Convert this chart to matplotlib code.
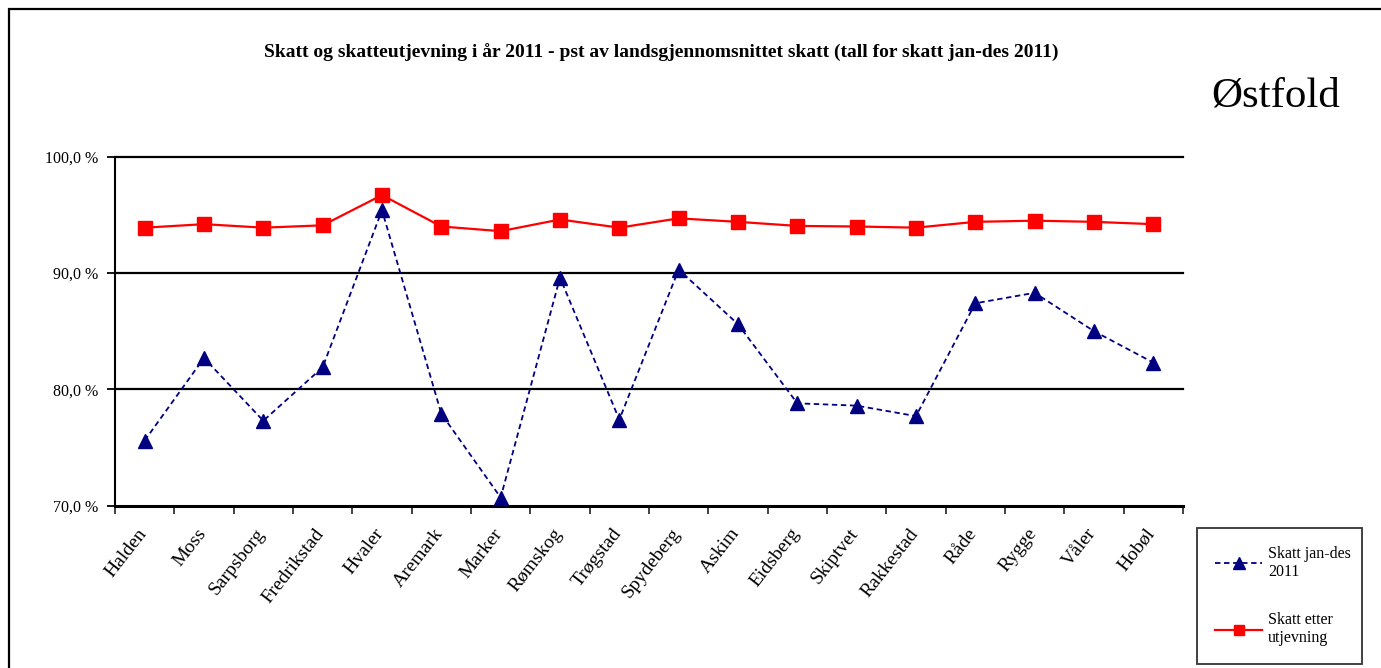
import numpy as np
import matplotlib
matplotlib.use('Agg')
import matplotlib.pyplot as plt
import matplotlib.transforms as mtransforms
from matplotlib.patches import Rectangle
from matplotlib.ticker import FixedLocator, FuncFormatter

plt.rcParams['font.family'] = ['Liberation Serif', 'DejaVu Serif']

# Kommuner i Østfold
kommuner = ['Halden', 'Moss', 'Sarpsborg', 'Fredrikstad', 'Hvaler', 'Aremark',
            'Marker', 'Rømskog', 'Trøgstad', 'Spydeberg', 'Askim', 'Eidsberg',
            'Skiptvet', 'Rakkestad', 'Råde', 'Rygge', 'Våler', 'Hobøl']

# pst av landsgjennomsnittet
skatt_jan_des = [75.6, 82.7, 77.3, 81.9, 95.4, 77.9, 70.7, 89.6, 77.4,
                 90.3, 85.6, 78.8, 78.6, 77.7, 87.4, 88.3, 85.0, 82.3]
skatt_etter_utj = [93.9, 94.2, 93.9, 94.1, 96.7, 94.0, 93.6, 94.6, 93.9,
                   94.7, 94.4, 94.05, 94.0, 93.9, 94.4, 94.5, 94.4, 94.2]

y_ticks = [70, 80, 90, 100]

W, H = 1381, 668
fig = plt.figure(figsize=(W / 100, H / 100), dpi=100)
fig.patch.set_facecolor('white')

# ramme rundt hele diagrammet
fig.add_artist(Rectangle((9 / W, -0.05), 1.2, 1 - 9 / H + 0.05,
                         transform=fig.transFigure, fill=False,
                         edgecolor='black', lw=1.6))

ax = fig.add_axes([115 / W, 1 - 505.7 / H, 1068 / W, 349 / H])
x = np.arange(len(kommuner))

ax.plot(x, skatt_jan_des, color='#000080', ls=(0, (3, 2)), lw=1.3,
        marker='^', markersize=10, markerfacecolor='#000080',
        markeredgecolor='#000080', label='Skatt jan-des\n2011', zorder=3)
ax.plot(x, skatt_etter_utj, color='#FF0000', ls='-', lw=1.6,
        marker='s', markersize=9.5, markerfacecolor='#FF0000',
        markeredgecolor='#FF0000', label='Skatt etter\nutjevning', zorder=4)

ax.set_xlim(-0.5, len(kommuner) - 0.5)
ax.set_ylim(70, 100)

for yv in y_ticks[1:]:
    ax.axhline(yv, color='black', lw=1.6, zorder=1, clip_on=False)

ax.spines['top'].set_visible(False)
ax.spines['right'].set_visible(False)
ax.spines['left'].set_linewidth(1.5)
ax.spines['bottom'].set_linewidth(2.2)

ax.yaxis.set_major_locator(FixedLocator(y_ticks))
ax.yaxis.set_major_formatter(FuncFormatter(lambda v, p: f'{v:.1f}'.replace('.', ',') + ' %'))
ax.tick_params(axis='y', direction='out', length=6, width=1.3, labelsize=11.5, pad=6)

# tick mellom kategoriene, etiketter midt i
ax.set_xticks(np.arange(len(kommuner) + 1) - 0.5)
ax.set_xticklabels([])
ax.tick_params(axis='x', which='major', direction='out', length=6, width=1.3, color='#333333')
ax.set_xticks(x, minor=True)
ax.set_xticklabels(kommuner, minor=True, rotation=52, ha='right', va='top',
                   rotation_mode='anchor', fontsize=14)
ax.tick_params(axis='x', which='minor', length=0, pad=14)
shift = mtransforms.ScaledTranslation(-8 / 100, 0, fig.dpi_scale_trans)
for lab in ax.get_xticklabels(minor=True):
    lab.set_transform(lab.get_transform() + shift)

fig.text(661 / W, 1 - 53 / H,
         'Skatt og skatteutjevning i år 2011 - pst av landsgjennomsnittet skatt (tall for skatt jan-des 2011)',
         ha='center', va='center', fontsize=14, fontweight='bold')
fig.text(1276 / W, 1 - 96 / H, 'Østfold', ha='center', va='center', fontsize=31)

leg = fig.legend(loc='upper left',
                 bbox_to_anchor=(1197 / W, 1 - 662 / H, 165 / W, 134 / H),
                 bbox_transform=fig.transFigure, mode='expand', borderaxespad=0,
                 frameon=True, fancybox=False, edgecolor='black', fontsize=11.5,
                 handlelength=3.0, handletextpad=0.35, labelspacing=2.0,
                 borderpad=1.1, markerscale=0.8)
leg.get_frame().set_linewidth(1.3)
for t in leg.get_texts():
    t.set_linespacing(1.2)

fig.savefig('out.png', dpi=100, facecolor='white')
